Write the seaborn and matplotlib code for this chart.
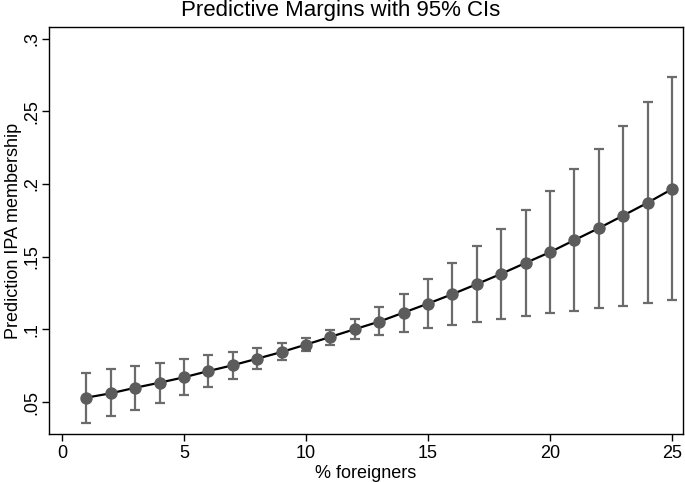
import matplotlib
matplotlib.use("Agg")
import matplotlib.pyplot as plt
import seaborn as sns
import pandas as pd

foreigners = list(range(1, 26))
margin = [0.0530, 0.0560, 0.0598, 0.0633, 0.0670, 0.0713, 0.0753, 0.0798, 0.0844, 0.0895,
          0.0948, 0.1001, 0.1053, 0.1115, 0.1177, 0.1242, 0.1311, 0.1382, 0.1457, 0.1531,
          0.1614, 0.1696, 0.1783, 0.1871, 0.1965]
ci_upper = [0.0698, 0.0725, 0.0748, 0.0771, 0.0794, 0.0822, 0.0846, 0.0874, 0.0904, 0.0943,
            0.0996, 0.1070, 0.1152, 0.1246, 0.1347, 0.1457, 0.1570, 0.1691, 0.1820, 0.1955,
            0.2100, 0.2244, 0.2401, 0.2564, 0.2733]
ci_lower = [0.0357, 0.0402, 0.0447, 0.0495, 0.0548, 0.0603, 0.0660, 0.0725, 0.0789, 0.0849,
            0.0895, 0.0932, 0.0959, 0.0982, 0.1008, 0.1028, 0.1051, 0.1072, 0.1090, 0.1111,
            0.1129, 0.1147, 0.1163, 0.1182, 0.1202]
x_ticks = [0, 5, 10, 15, 20, 25]
y_ticks = [0.05, 0.1, 0.15, 0.2, 0.25, 0.3]
y_tick_labels = [".05", ".1", ".15", ".2", ".25", ".3"]

df = pd.DataFrame({"x": foreigners, "m": margin, "lo": ci_lower, "hi": ci_upper})

sns.set_theme(style="white")
plt.rcParams["font.family"] = ["Liberation Sans", "DejaVu Sans"]
plt.rcParams["text.color"] = "black"
plt.rcParams["axes.labelcolor"] = "black"
plt.rcParams["xtick.color"] = "black"
plt.rcParams["ytick.color"] = "black"

fig = plt.figure(figsize=(6.85, 4.82), dpi=100)
ax = fig.add_axes([49 / 685, 1 - 434 / 482, (683 - 49) / 685, (434 - 27) / 482])

err_lo = [m - l for m, l in zip(df["m"], df["lo"])]
err_hi = [h - m for m, h in zip(df["m"], df["hi"])]
ax.errorbar(df["x"], df["m"], yerr=[err_lo, err_hi], fmt="none",
            ecolor="#6b6b6b", elinewidth=1.6, capsize=3.6, capthick=1.6, zorder=2)
sns.lineplot(data=df, x="x", y="m", ax=ax, color="black", linewidth=1.6, zorder=3)
sns.scatterplot(data=df, x="x", y="m", ax=ax, color="#5c5c5c", s=80,
                edgecolor="#5c5c5c", linewidth=0, zorder=4)

ax.set_xlim(-0.53, 25.45)
ax.set_ylim(0.028, 0.308)
ax.set_xticks(x_ticks)
ax.set_xticklabels([str(t) for t in x_ticks], fontsize=13, color="black")
ax.set_yticks(y_ticks)
ax.set_yticklabels(y_tick_labels, fontsize=13, rotation=90, va="center", color="black")
ax.tick_params(axis="both", direction="out", length=5, width=1, color="black",
               bottom=True, left=True)
ax.tick_params(axis="x", pad=3)
ax.tick_params(axis="y", pad=1.0)
for s in ax.spines.values():
    s.set_color("black")
    s.set_linewidth(1.0)

ax.set_xlabel("% foreigners", fontsize=13, labelpad=2, color="black")
ax.set_ylabel("Prediction IPA membership", fontsize=13, labelpad=1, color="black")
fig.suptitle("Predictive Margins with 95% CIs", fontsize=16, x=0.497, y=1.0, va="top",
             color="black")

fig.savefig("out.png", dpi=100, facecolor="white")
